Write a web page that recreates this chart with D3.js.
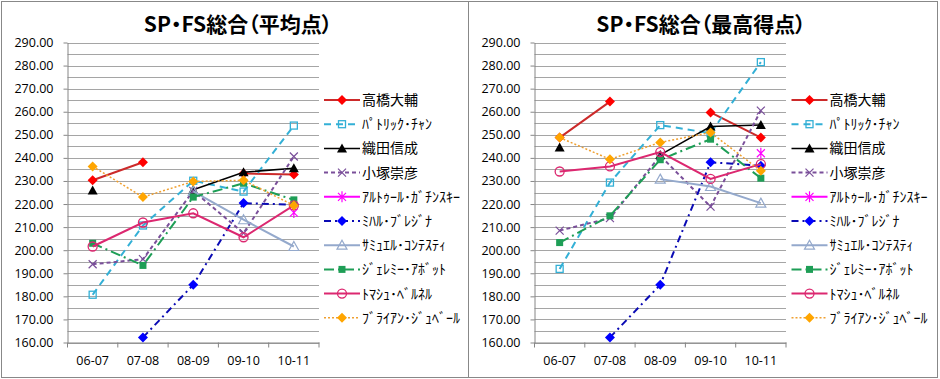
<!DOCTYPE html>
<html>
<head>
<meta charset="utf-8">
<script src="https://cdn.jsdelivr.net/npm/d3@7"></script>
<style>
  body { margin: 0; background: #fff; }
  svg { display: block; }
  .tick text { font-family: "Open Sans", "Liberation Sans", sans-serif; font-size: 12.5px; fill: #000; }
  .title { font-family: "Noto Sans CJK JP", sans-serif; font-weight: bold; font-size: 21px; font-feature-settings: "palt"; }
  .legend text { font-family: "Noto Sans CJK JP", sans-serif; font-size: 14px; }
</style>
</head>
<body>
<svg id="chart" width="940" height="379"></svg>
<script>
const seasons = ["06-07", "07-08", "08-09", "09-10", "10-11"];
const skaters = [
  "高橋大輔", "ﾊﾟﾄﾘｯｸ･ﾁｬﾝ", "織田信成", "小塚崇彦", "ｱﾙﾄｩｰﾙ･ｶﾞﾁﾝｽｷｰ",
  "ﾐﾊﾙ･ﾌﾞﾚｼﾞﾅ", "ｻﾐｭｴﾙ･ｺﾝﾃｽﾃｨ", "ｼﾞｪﾚﾐｰ･ｱﾎﾞｯﾄ", "ﾄﾏｼｭ･ﾍﾞﾙﾈﾙ", "ﾌﾞﾗｲｱﾝ･ｼﾞｭﾍﾞｰﾙ"
];
const yTicks = [160, 170, 180, 190, 200, 210, 220, 230, 240, 250, 260, 270, 280, 290];

// one row per skater, same order as skaters
const averageScores = [
  [230.3, 238.1, null, 233.2, 232.8],
  [180.7, 210.7, 230.1, 225.4, 254.0],
  [225.9, null, 226.2, 233.8, 235.5],
  [193.9, 196.1, 225.7, 207.4, 240.6],
  [null, null, null, null, 216.3],
  [null, 162.2, 185.0, 220.4, 219.7],
  [null, null, 225.5, 213.2, 201.6],
  [203.0, 193.4, 223.0, 229.0, 221.8],
  [201.6, 212.0, 216.0, 205.6, 219.4],
  [236.3, 223.0, 229.8, 230.3, 219.4]
];
const bestScores = [
  [248.8, 264.4, null, 259.7, 248.8],
  [191.9, 229.3, 254.2, 250.7, 281.5],
  [244.5, null, 241.3, 253.6, 254.3],
  [208.5, 213.9, 240.9, 218.9, 260.5],
  [null, null, null, null, 242.0],
  [null, 162.2, 185.0, 238.1, 236.6],
  [null, null, 230.8, 227.6, 220.4],
  [203.3, 214.9, 239.2, 248.1, 231.2],
  [234.1, 236.3, 242.5, 230.9, 237.3],
  [248.8, 239.4, 246.7, 251.0, 234.4]
];

const styles = [
  { color: "#cc2a2a", mcolor: "#ff0000", width: 2, dash: null, marker: "diamond" },
  { color: "#33b0d6", width: 2, dash: "7,5", marker: "square" },
  { color: "#000000", width: 1.5, dash: null, marker: "triangle" },
  { color: "#7a4f9a", width: 2, dash: "4,3", marker: "x" },
  { color: "#ff00ff", width: 2, dash: null, marker: "star" },
  { color: "#0a0ab4", mcolor: "#0000ff", width: 2, dash: "7,4,2,4", marker: "diamond" },
  { color: "#94a9cc", width: 2, dash: null, marker: "triangleOpen" },
  { color: "#1e9e56", width: 2, dash: "10,4,2,4", marker: "squareFilled" },
  { color: "#dc2870", width: 2, dash: null, marker: "circle" },
  { color: "#f0a030", mcolor: "#ffa500", width: 1.5, dash: "2,2", marker: "diamond" }
];

const charts = [
  { title: "SP・FS総合（平均点）", values: averageScores, left: 67.5, right: 319, titleX: 238, legendX: 324 },
  { title: "SP・FS総合（最高得点）", values: bestScores, left: 534.5, right: 786, titleX: 701, legendX: 791.5 }
];

const svg = d3.select("#chart");
const plotTop = 42.5, plotBottom = 342.5;

// frames
svg.append("rect").attr("x", 1.5).attr("y", 1.5).attr("width", 467).attr("height", 376)
  .attr("fill", "none").attr("stroke", "#888");
svg.append("rect").attr("x", 468.5).attr("y", 1.5).attr("width", 469).attr("height", 376)
  .attr("fill", "none").attr("stroke", "#888");

function drawMarker(g, type, color) {
  switch (type) {
    case "diamond":
      g.append("path").attr("d", "M0,-5L5,0L0,5L-5,0Z").attr("fill", color); break;
    case "square":
      g.append("rect").attr("x", -3.5).attr("y", -3.5).attr("width", 7).attr("height", 7)
        .attr("fill", "none").attr("stroke", color).attr("stroke-width", 1.3); break;
    case "squareFilled":
      g.append("rect").attr("x", -3.5).attr("y", -3.5).attr("width", 7).attr("height", 7)
        .attr("fill", color); break;
    case "triangle":
      g.append("path").attr("d", "M0,-5L5,4L-5,4Z").attr("fill", color); break;
    case "triangleOpen":
      g.append("path").attr("d", "M0,-5L5,4L-5,4Z").attr("fill", "none")
        .attr("stroke", color).attr("stroke-width", 1.2); break;
    case "x":
      g.append("path").attr("d", "M-4,-4L4,4M-4,4L4,-4").attr("stroke", color).attr("stroke-width", 1.2); break;
    case "star":
      g.append("path").attr("d", "M-4,-4L4,4M-4,4L4,-4M0,-5.5L0,5.5").attr("stroke", color).attr("stroke-width", 1.2); break;
    case "circle":
      g.append("circle").attr("r", 4.5).attr("fill", "none").attr("stroke", color).attr("stroke-width", 1.3); break;
  }
}

charts.forEach((c) => {
  const x = d3.scaleBand().domain(seasons).range([c.left, c.right]);
  const y = d3.scaleLinear().domain([160, 290]).range([plotBottom, plotTop]);
  const g = svg.append("g");

  // title
  g.append("text").attr("class", "title").attr("x", c.titleX).attr("y", 32)
    .attr("text-anchor", "middle").text(c.title);

  // gridlines: majors plus halfway lines
  const grid = yTicks.concat(yTicks.slice(1).map((t) => t - 5));
  g.append("g").selectAll("line").data(grid).enter().append("line")
    .attr("x1", c.left).attr("x2", c.right)
    .attr("y1", (d) => Math.round(y(d)) + 0.5).attr("y2", (d) => Math.round(y(d)) + 0.5)
    .attr("stroke", "#a5a5a5");

  // y axis
  const yAxis = d3.axisLeft(y).tickValues(yTicks).tickFormat(d3.format(".2f"))
    .tickSize(4).tickSizeOuter(0).tickPadding(10);
  const ya = g.append("g").attr("transform", `translate(${c.left},0)`).call(yAxis);
  ya.selectAll("path,line").attr("stroke", "#868686");

  // x axis, ticks on category boundaries
  const xAxis = d3.axisBottom(x).tickSize(0).tickSizeOuter(0).tickPadding(13.5);
  const xa = g.append("g").attr("transform", `translate(0,${plotBottom})`).call(xAxis);
  xa.select(".domain").attr("stroke", "#868686");
  const bounds = seasons.map((s) => x(s)).concat([x.range()[1]]);
  xa.selectAll(".bound").data(bounds).enter().append("line").attr("class", "bound")
    .attr("x1", (d) => d).attr("x2", (d) => d).attr("y1", 0).attr("y2", 5)
    .attr("stroke", "#868686");

  // series
  const cx = (i) => x(seasons[i]) + x.bandwidth() / 2;
  const line = d3.line().defined((d) => d != null).x((d, i) => cx(i)).y((d) => y(d));
  c.values.forEach((vals, k) => {
    const st = styles[k];
    const sg = g.append("g");
    sg.append("path").attr("d", line(vals)).attr("fill", "none")
      .attr("stroke", st.color).attr("stroke-width", st.width)
      .attr("stroke-dasharray", st.dash);
    vals.forEach((v, i) => {
      if (v == null) return;
      const mg = sg.append("g").attr("transform", `translate(${cx(i)},${y(v)})`);
      drawMarker(mg, st.marker, st.mcolor || st.color);
    });
  });

  // legend
  const lg = g.append("g").attr("class", "legend");
  skaters.forEach((name, k) => {
    const st = styles[k];
    const ly = 100 + k * 24.2;
    const row = lg.append("g").attr("transform", `translate(${c.legendX},${ly})`);
    row.append("line").attr("x1", 0).attr("x2", 36).attr("y1", 0).attr("y2", 0)
      .attr("stroke", st.color).attr("stroke-width", st.width)
      .attr("stroke-dasharray", st.dash);
    drawMarker(row.append("g").attr("transform", "translate(18,0)"), st.marker, st.mcolor || st.color);
    row.append("text").attr("x", 38).attr("y", 0).attr("dy", "0.35em").text(name);
  });
});
</script>
</body>
</html>
